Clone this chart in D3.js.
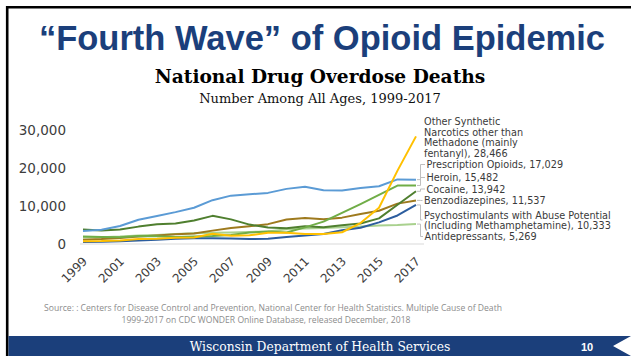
<!DOCTYPE html>
<html>
<head>
<meta charset="utf-8">
<script src="https://cdn.jsdelivr.net/npm/d3@7"></script>
<style>
  html, body { margin: 0; padding: 0; background: #fff; }
  svg { display: block; }
</style>
</head>
<body>
<svg id="chart" width="631" height="356"></svg>
<script>
// Drug overdose deaths by drug category, United States, 1999-2017
const years = d3.range(1999, 2018);
const yTicks = [0, 10000, 20000, 30000];
const xTickYears = [1999, 2001, 2003, 2005, 2007, 2009, 2011, 2013, 2015, 2017];

const syntheticNarcotics = [730, 782, 957, 1295, 1400, 1664, 1742, 2707, 2213, 2306, 2946, 3007, 2666, 2628, 3105, 5544, 9580, 19413, 28466];
const prescriptionOpioids = [3442, 3785, 4770, 6426, 7420, 8430, 9600, 11589, 12796, 13149, 13523, 14583, 15140, 14240, 14145, 14838, 15281, 17087, 17029];
const heroin = [1960, 1842, 1779, 2089, 2080, 1878, 2009, 2088, 2399, 3041, 3278, 3036, 4397, 5925, 8257, 10574, 12989, 15469, 15482];
const cocaine = [3822, 3544, 3833, 4599, 5199, 5443, 6208, 7448, 6512, 5129, 4350, 4183, 4681, 4404, 4944, 5415, 6784, 10375, 13942];
const benzodiazepines = [1135, 1298, 1594, 2007, 2248, 2586, 2749, 3539, 4243, 4700, 5250, 6497, 6872, 6524, 6973, 7945, 8791, 10684, 11537];
const psychostimulants = [547, 578, 742, 940, 1154, 1384, 1505, 1530, 1439, 1302, 1420, 1854, 2266, 2635, 3627, 4298, 5716, 7542, 10333];
const antidepressants = [1749, 1802, 1965, 2281, 2400, 2627, 2850, 3000, 3072, 3200, 3336, 3889, 4100, 4200, 4400, 4600, 4900, 5000, 5269];

const seriesNames = [
  "Other Synthetic Narcotics other than Methadone (mainly fentanyl)",
  "Prescription Opioids",
  "Heroin",
  "Cocaine",
  "Benzodiazepines",
  "Psychostimulants with Abuse Potential (Including Methamphetamine)",
  "Antidepressants"
];
const seriesValues = [syntheticNarcotics, prescriptionOpioids, heroin, cocaine, benzodiazepines, psychostimulants, antidepressants];
const seriesColors = ["#FFC000", "#5B9BD5", "#70AD47", "#4F7F2F", "#9E7A1E", "#2C5D9E", "#A9D18E"];

// End-of-line label text, split into lines
const labelLines = [
  ["Other Synthetic", "Narcotics other than", "Methadone (mainly", "fentanyl), 28,466"],
  ["Prescription Opioids, 17,029"],
  ["Heroin, 15,482"],
  ["Cocaine, 13,942"],
  ["Benzodiazepines, 11,537"],
  ["Psychostimulants with Abuse Potential", "(Including Methamphetamine), 10,333"],
  ["Antidepressants, 5,269"]
];
// Label placement: left edge, first-line baseline, and whether a leader is drawn
const labelLayout = [
  { x: 424, y: 125, leader: false },
  { x: 426.5, y: 168, leader: true },
  { x: 426.5, y: 181, leader: true },
  { x: 426.5, y: 192.5, leader: true },
  { x: 424, y: 204, leader: true },
  { x: 424, y: 218.5, leader: true },
  { x: 424.5, y: 240, leader: true }
];

const svg = d3.select("#chart");
const W = 631, H = 356;

svg.append("rect").attr("width", W).attr("height", H).attr("fill", "#fff");

// Slide frame
svg.append("path")
  .attr("d", "M7.2,356 V7.2 H631")
  .attr("fill", "none").attr("stroke", "#000").attr("stroke-width", 2.6);

// Headings
svg.append("text")
  .attr("x", 322).attr("y", 50)
  .attr("text-anchor", "middle")
  .attr("font-family", "Liberation Sans, Arial, sans-serif")
  .attr("font-weight", "bold").attr("font-size", 34.5)
  .attr("fill", "#1B3F7B")
  .text("\u201CFourth Wave\u201D of Opioid Epidemic");

svg.append("text")
  .attr("x", 320).attr("y", 83)
  .attr("text-anchor", "middle")
  .attr("font-family", "DejaVu Serif, serif")
  .attr("font-weight", "bold").attr("font-size", 18.6)
  .attr("fill", "#000")
  .text("National Drug Overdose Deaths");

svg.append("text")
  .attr("x", 320).attr("y", 103)
  .attr("text-anchor", "middle")
  .attr("font-family", "DejaVu Serif, serif")
  .attr("font-size", 13)
  .attr("fill", "#111")
  .text("Number Among All Ages, 1999-2017");

// Chart scales
const x = d3.scaleLinear().domain([1999, 2017]).range([83, 416]);
const y = d3.scaleLinear().domain([0, 30000]).range([244, 130.6]);

// Baseline gridline
svg.append("line")
  .attr("x1", 80).attr("x2", 424)
  .attr("y1", y(0)).attr("y2", y(0))
  .attr("stroke", "#d9d9d9").attr("stroke-width", 1);

// Y axis labels
const yAxis = d3.axisLeft(y).tickValues(yTicks).tickSize(0).tickPadding(0)
  .tickFormat(d3.format(","));
const gy = svg.append("g").attr("transform", "translate(66,0)").call(yAxis);
gy.select(".domain").remove();
gy.selectAll("text")
  .attr("font-family", "DejaVu Sans, sans-serif")
  .attr("font-size", 13.5)
  .attr("fill", "#3d3d3d");

// X axis labels, rotated
const xAxis = d3.axisBottom(x).tickValues(xTickYears).tickSize(0).tickPadding(0)
  .tickFormat(d3.format("d"));
const gx = svg.append("g").call(xAxis);
gx.select(".domain").remove();
gx.selectAll(".tick").attr("transform", d => `translate(${x(d) + 5},262)`);
gx.selectAll("text")
  .attr("font-family", "DejaVu Sans, sans-serif")
  .attr("font-size", 12)
  .attr("fill", "#3d3d3d")
  .attr("text-anchor", "end")
  .attr("y", 0).attr("dy", 0)
  .attr("transform", "rotate(-45)");

// Series lines
const line = d3.line().x((d, i) => x(years[i])).y(d => y(d));
const drawOrder = [6, 5, 4, 3, 2, 1, 0];
svg.append("g").selectAll("path")
  .data(drawOrder)
  .join("path")
  .attr("d", i => line(seriesValues[i]))
  .attr("fill", "none")
  .attr("stroke", i => seriesColors[i])
  .attr("stroke-width", 2)
  .attr("stroke-linejoin", "round");

// Leader lines from each line end to its label
const lastIdx = years.length - 1;
const leaders = svg.append("g");
labelLayout.forEach((l, i) => {
  if (!l.leader) return;
  const ye = y(seriesValues[i][lastIdx]);
  const nLines = labelLines[i].length;
  const yl = l.y - 3.5 + (nLines > 1 ? 5 : 0);
  const xs = x(2017);
  leaders.append("path")
    .attr("d", `M${xs + 1},${ye} H${xs + 4.5} V${yl} H${l.x - 1.5}`)
    .attr("fill", "none")
    .attr("stroke", "#bfbfbf").attr("stroke-width", 1);
});

// Labels
const labels = svg.append("g")
  .attr("font-family", "DejaVu Sans, sans-serif")
  .attr("font-size", 9.7)
  .attr("fill", "#3a3a3a");
labelLayout.forEach((l, i) => {
  const t = labels.append("text").attr("x", l.x).attr("y", l.y);
  labelLines[i].forEach((s, k) => {
    t.append("tspan").attr("x", l.x).attr("dy", k === 0 ? 0 : 10.6).text(s);
  });
});

// Source note
const src = svg.append("g")
  .attr("font-family", "Open Sans, sans-serif")
  .attr("font-size", 8.6)
  .attr("fill", "#8c8c8c")
  .attr("text-anchor", "middle");
src.append("text").attr("x", 273).attr("y", 311)
  .text("Source: : Centers for Disease Control and Prevention, National Center for Health Statistics. Multiple Cause of Death");
src.append("text").attr("x", 266).attr("y", 323)
  .text("1999-2017 on CDC WONDER Online Database, released December, 2018");

// Footer banner
svg.append("path")
  .attr("d", "M8.5,336 H631 L613,346 L631,356 H8.5 Z")
  .attr("fill", "#1B3F7B");
svg.append("text")
  .attr("x", 320).attr("y", 351)
  .attr("text-anchor", "middle")
  .attr("font-family", "DejaVu Serif, serif")
  .attr("font-size", 12.3)
  .attr("fill", "#fff")
  .text("Wisconsin Department of Health Services");
svg.append("text")
  .attr("x", 587).attr("y", 350.5)
  .attr("text-anchor", "middle")
  .attr("font-family", "Liberation Sans, Arial, sans-serif")
  .attr("font-weight", "bold")
  .attr("font-size", 11)
  .attr("fill", "#fff")
  .text("10");
</script>
</body>
</html>
